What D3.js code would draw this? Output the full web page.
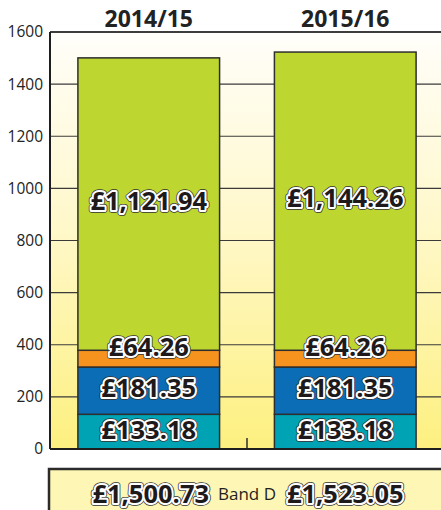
<!DOCTYPE html>
<html>
<head>
<meta charset="utf-8">
<script src="https://cdn.jsdelivr.net/npm/d3@7"></script>
<style>
  body { margin: 0; background: #fff; }
  svg { display: block; }
</style>
</head>
<body>
<div id="chart"></div>
<script>
let svgWidth = 441;
let svgHeight = 510;
let margin = { top: 32, right: -3, bottom: 61, left: 50 };
let w = svgWidth - margin.left - margin.right;
let h = svgHeight - margin.top - margin.bottom;

// data
let years = ['2014/15', '2015/16'];
let parts = ['teal', 'blue', 'orange', 'green'];
let teal = [133.18, 133.18];
let blue = [181.35, 181.35];
let orange = [64.26, 64.26];
let green = [1121.94, 1144.26];
let totals = ['£1,500.73', '£1,523.05'];
let yTicks = [0, 200, 400, 600, 800, 1000, 1200, 1400, 1600];

let colours = { teal: '#00a3b4', blue: '#0b6db6', orange: '#f6921e', green: '#bed630' };
let values = { teal: teal, blue: blue, orange: orange, green: green };

let rows = years.map((y, i) => {
  let r = { year: y };
  parts.forEach(p => r[p] = values[p][i]);
  return r;
});
let stacked = d3.stack().keys(parts)(rows);

let svg = d3.select('#chart').append('svg')
  .attr('width', svgWidth)
  .attr('height', svgHeight);

let defs = svg.append('defs');
let grad = defs.append('linearGradient')
  .attr('id', 'bg').attr('x1', 0).attr('y1', 0).attr('x2', 0).attr('y2', 1);
grad.append('stop').attr('offset', '0%').attr('stop-color', '#fffefa');
grad.append('stop').attr('offset', '45%').attr('stop-color', '#fff8cc');
grad.append('stop').attr('offset', '100%').attr('stop-color', '#fdf080');

let chart = svg.append('g')
  .attr('transform', `translate(${margin.left},${margin.top})`);

let x = d3.scaleBand()
  .domain(years)
  .range([0, w])
  .paddingInner(0.279)
  .paddingOuter(0.142);

let y = d3.scaleLinear()
  .domain([0, 1600])
  .range([h, 0]);

chart.append('rect')
  .attr('width', w).attr('height', h)
  .attr('fill', 'url(#bg)');

// gridlines
chart.selectAll('.grid')
  .data(yTicks.slice(1))
  .join('line')
    .attr('x1', 0).attr('x2', w)
    .attr('y1', d => y(d)).attr('y2', d => y(d))
    .attr('stroke', '#3a3a3a').attr('stroke-width', 1.2);

// stacked bars
chart.selectAll('.layer')
  .data(stacked)
  .join('g')
    .attr('fill', d => colours[d.key])
  .selectAll('rect')
  .data(d => d)
  .join('rect')
    .attr('x', d => x(d.data.year))
    .attr('width', x.bandwidth())
    .attr('y', d => y(d[1]))
    .attr('height', d => y(d[0]) - y(d[1]))
    .attr('stroke', '#2e2e2e')
    .attr('stroke-width', 1.5);

// middle tick
let mid = (x(years[0]) + x.bandwidth() + x(years[1])) / 2;
chart.append('line')
  .attr('x1', mid).attr('x2', mid)
  .attr('y1', h).attr('y2', h - 11)
  .attr('stroke', '#2e2e2e').attr('stroke-width', 1.5);

// axes
chart.append('line')
  .attr('x1', 0).attr('x2', 0).attr('y1', 0).attr('y2', h)
  .attr('stroke', '#1e1e1e').attr('stroke-width', 2);
chart.append('line')
  .attr('x1', 0).attr('x2', w).attr('y1', h).attr('y2', h)
  .attr('stroke', '#1e1e1e').attr('stroke-width', 2);
chart.append('line')
  .attr('x1', 0).attr('x2', w).attr('y1', 0).attr('y2', 0)
  .attr('stroke', '#1e1e1e').attr('stroke-width', 1.5);

chart.selectAll('.ytick')
  .data(yTicks)
  .join('text')
    .attr('x', -7)
    .attr('y', d => y(d))
    .attr('dy', '0.35em')
    .attr('text-anchor', 'end')
    .attr('font-family', 'Open Sans, sans-serif')
    .attr('font-size', 15.5)
    .attr('fill', '#222')
    .text(d => d);

// year headers
chart.selectAll('.year')
  .data(years)
  .join('text')
    .attr('x', d => x(d) + x.bandwidth() / 2)
    .attr('y', -5)
    .attr('text-anchor', 'middle')
    .attr('font-family', 'Open Sans, sans-serif')
    .attr('font-weight', 'bold')
    .attr('font-size', 23)
    .attr('fill', '#222')
    .text(d => d);

function halo(sel, size) {
  sel.each(function() {
    let node = this.cloneNode(true);
    this.parentNode.insertBefore(node, this);
    d3.select(node).attr('stroke', '#333').attr('stroke-width', size + 1.5)
      .attr('stroke-linejoin', 'round').attr('fill', '#333');
    let node2 = this.cloneNode(true);
    this.parentNode.insertBefore(node2, this);
    d3.select(node2).attr('stroke', '#fff').attr('stroke-width', size)
      .attr('stroke-linejoin', 'round').attr('fill', '#fff');
  });
}

// segment labels
let labelPos = { teal: d => (d[0] + d[1]) / 2 + 8, blue: d => (d[0] + d[1]) / 2 + 12,
  orange: d => d[1] + 15, green: d => (d[0] + d[1]) / 2 + 12 };
let labelData = [];
stacked.forEach(layer => {
  layer.forEach(d => {
    labelData.push({ year: d.data.year, v: d.data[layer.key], pos: labelPos[layer.key](d) });
  });
});

chart.selectAll('.seg')
  .data(labelData)
  .join('text')
    .attr('x', d => x(d.year) + x.bandwidth() / 2)
    .attr('y', d => y(d.pos))
    .attr('dy', '0.36em')
    .attr('text-anchor', 'middle')
    .attr('font-family', 'Open Sans, sans-serif')
    .attr('font-weight', 'bold')
    .attr('font-size', 25.5)
    .attr('fill', '#1e1a1b')
    .text(d => '£' + d3.format(',.2f')(d.v))
    .call(halo, 4);

// totals box
let box = svg.append('g');
box.append('rect')
  .attr('x', margin.left - 1).attr('y', 469)
  .attr('width', 400).attr('height', 60)
  .attr('fill', '#fef6b4')
  .attr('stroke', '#2b2b2b').attr('stroke-width', 2.5);

box.selectAll('.total')
  .data(totals)
  .join('text')
    .attr('x', (d, i) => margin.left + x(years[i]) + x.bandwidth() / 2 + (i === 0 ? 2 : 0))
    .attr('y', 494)
    .attr('dy', '0.36em')
    .attr('text-anchor', 'middle')
    .attr('font-family', 'Open Sans, sans-serif')
    .attr('font-weight', 'bold')
    .attr('font-size', 25.5)
    .attr('fill', '#1e1a1b')
    .text(d => d)
    .call(halo, 4);

box.append('text')
  .attr('x', 247).attr('y', 494).attr('dy', '0.36em')
  .attr('text-anchor', 'middle')
  .attr('font-family', 'Open Sans, sans-serif')
  .attr('font-size', 17)
  .attr('fill', '#231f20')
  .text('Band D');
</script>
</body>
</html>
